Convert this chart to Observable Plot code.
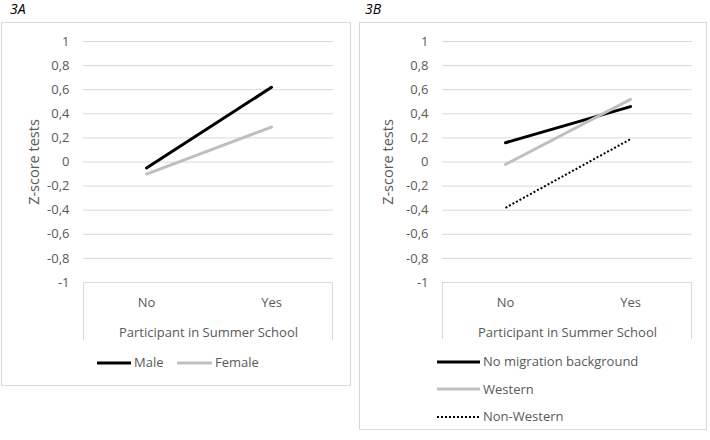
<!DOCTYPE html>
<html><head><meta charset="utf-8">
<script src="https://cdn.jsdelivr.net/npm/d3@7"></script>
<script src="https://cdn.jsdelivr.net/npm/@observablehq/plot@0.6"></script>
<style>
body{margin:0;width:710px;height:440px;position:relative;background:#fff;font-family:"Open Sans",sans-serif;color:#595959;overflow:hidden}
.panel{position:absolute;border:1px solid #d9d9d9;box-sizing:border-box}
.ptitle{position:absolute;font-style:italic;font-size:14px;color:#000;line-height:15px}
.xbox{position:absolute;border:1px solid #d9d9d9;border-bottom:none;box-sizing:border-box}
.plotwrap{position:absolute}
.leg{position:absolute;font-size:13px;line-height:15px;display:flex;align-items:center;color:#595959;white-space:nowrap}
.leg svg{margin-right:3px}
</style></head><body>
<script>
// ---- data ----
const groups = ["No", "Yes"];
const seriesA = ["Male", "Female"];
const maleValues = [-0.05, 0.62];
const femaleValues = [-0.10, 0.29];
const seriesB = ["No migration background", "Western", "Non-Western"];
const noMigrationValues = [0.16, 0.46];
const westernValues = [-0.02, 0.52];
const nonWesternValues = [-0.38, 0.19];
const yTicks = [-1, -0.8, -0.6, -0.4, -0.2, 0, 0.2, 0.4, 0.6, 0.8, 1];
const yTickLabels = ["-1", "-0,8", "-0,6", "-0,4", "-0,2", "0", "0,2", "0,4", "0,6", "0,8", "1"];
const yTitle = "Z-score tests";
const xTitle = "Participant in Summer School";
const panelTitles = ["3A", "3B"];

// ---- styles ----
const styles = {
  "Male": {stroke: "#000000", width: 3, dash: null, cap: "round"},
  "Female": {stroke: "#bfbfbf", width: 3, dash: null, cap: "round"},
  "No migration background": {stroke: "#000000", width: 3, dash: null, cap: "round"},
  "Western": {stroke: "#bfbfbf", width: 3, dash: null, cap: "round"},
  "Non-Western": {stroke: "#000000", width: 2, dash: "2 2", cap: "butt"}
};

function toRows(series, valueArrays) {
  const rows = [];
  series.forEach((s, i) => groups.forEach((g, j) => rows.push({series: s, group: g, value: valueArrays[i][j]})));
  return rows;
}
const rowsA = toRows(seriesA, [maleValues, femaleValues]);
const rowsB = toRows(seriesB, [noMigrationValues, westernValues, nonWesternValues]);

function el(tag, cls, css, parent) {
  const e = document.createElement(tag);
  if (cls) e.className = cls;
  Object.assign(e.style, css || {});
  (parent || document.body).appendChild(e);
  return e;
}

function makePlot(rows, series, o) {
  return Plot.plot({
    width: o.width, height: 320,
    marginTop: 19, marginBottom: 60, marginLeft: o.ml, marginRight: o.mr,
    style: {fontFamily: "Open Sans, sans-serif", fontSize: "13px", color: "#595959", background: "transparent", overflow: "visible"},
    x: {type: "point", domain: groups, padding: 0.5},
    y: {domain: [-1, 1]},
    marks: [
      Plot.gridY(yTicks.filter(t => t > -1), {stroke: "#d9d9d9", strokeOpacity: 1, strokeWidth: 1}),
      Plot.axisY({ticks: yTicks, tickSize: 0, tickPadding: 14,
        tickFormat: t => yTickLabels[yTicks.indexOf(t)], label: null, fontSize: 13}),
      Plot.text([yTitle], {frameAnchor: "left", text: d => d, rotate: -90, dx: o.ydx,
        fontSize: 14.5, fill: "#595959", textAnchor: "middle", lineAnchor: "middle"}),
      Plot.axisX({tickSize: 0, tickPadding: 15, label: xTitle, labelAnchor: "center", labelArrow: "none", labelOffset: 54, fontSize: 13}),
      ...series.map(s => Plot.line(rows.filter(r => r.series === s), {
        x: "group", y: "value", stroke: styles[s].stroke, strokeWidth: styles[s].width,
        strokeDasharray: styles[s].dash, strokeLinecap: styles[s].cap
      }))
    ]
  });
}

function legendItem(name, css) {
  const d = el("div", "leg", css);
  const st = styles[name];
  const len = css.lineLen;
  d.innerHTML = `<svg width="${len}" height="6"><line x1="0" x2="${len}" y1="3" y2="3" stroke="${st.stroke}" stroke-width="${st.width}" ${st.dash ? `stroke-dasharray="${st.dash}"` : ""}/></svg><span>${name}</span>`;
  return d;
}

// ---- panel A ----
el("div", "panel", {left: "1px", top: "22px", width: "350px", height: "364px"});
el("div", "ptitle", {left: "10px", top: "1px"}).textContent = panelTitles[0];
el("div", "xbox", {left: "83px", top: "282px", width: "250px", height: "58px"});
const wa = el("div", "plotwrap", {left: "1px", top: "22px"});
wa.appendChild(makePlot(rowsA, seriesA, {width: 350, ml: 82, mr: 18, ydx: -49.5}));
[["Male", 97, 34], ["Female", 177, 35]].forEach(([n, x, len]) => {
  legendItem(n, {left: x + "px", top: "355px", lineLen: len});
});

// ---- panel B ----
el("div", "panel", {left: "359px", top: "22px", width: "348px", height: "408px"});
el("div", "ptitle", {left: "365px", top: "1px"}).textContent = panelTitles[1];
el("div", "xbox", {left: "442px", top: "282px", width: "250px", height: "57px"});
const wb = el("div", "plotwrap", {left: "359px", top: "22px"});
wb.appendChild(makePlot(rowsB, seriesB, {width: 348, ml: 83, mr: 15, ydx: -54}));
seriesB.forEach((n, i) => {
  legendItem(n, {left: "437px", top: (354 + i * 27.5) + "px", lineLen: 43});
});
</script>
</body></html>
